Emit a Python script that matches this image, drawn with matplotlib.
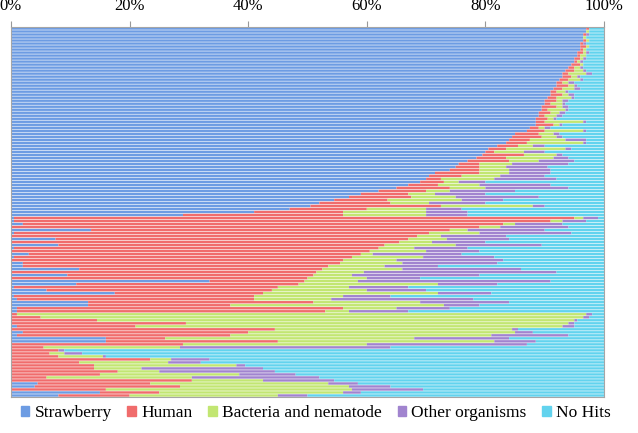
import matplotlib.pyplot as plt
from matplotlib.patches import Patch
import numpy as np

categories = ["Strawberry", "Human", "Bacteria and nematode", "Other organisms", "No Hits"]
colors = ["#6d9ce3", "#f06c6c", "#c2e672", "#a184cf", "#62d3ee"]
xticks = [0, 20, 40, 60, 80, 100]

# percent of each sample, one entry per bar (top to bottom)
strawberry = [97, 97, 96.5, 96.5, 96.5, 96, 96, 96, 95.5, 95.5,
              95, 95, 94.5, 94, 93.5, 93, 93, 92.5, 92, 92,
              91.5, 91, 91, 90.5, 90, 90, 89.5, 89.5, 89, 89,
              88.5, 88.5, 88.5, 87.5, 87, 85, 84.5, 84, 83.5, 82,
              80.5, 80, 79.5, 78.5, 77, 75.5, 75, 74, 71.5, 70.5,
              70, 69, 67, 65, 62, 59, 57, 54.5, 52, 50.5,
              47, 41, 29, 0.5, 0.5, 2, 0, 13.5, 0.5, 0,
              7.5, 0, 8, 0.5, 0, 3, 0.5, 0, 2, 2,
              11.5, 0, 9.5, 0, 33.5, 11, 0.5, 6, 17.5, 0.5,
              1, 13, 13, 1, 1, 0, 0, 0, 0, 1,
              0, 2, 1, 16, 16, 0, 0, 0, 0, 0,
              0, 0, 0, 0, 0, 0, 0, 0, 4.5, 4,
              0, 15, 8]
human = [0.5, 0, 0.5, 0, 0.5, 0.5, 1, 0.5, 1, 0.5,
         1, 0.5, 1.5, 1, 1.5, 1, 1.5, 1.5, 1, 2,
         1.5, 1, 2, 1.5, 2, 1, 2.5, 1, 2, 1,
         2, 1.5, 3, 1.5, 3, 4, 5, 3.5, 3.5, 3.5,
         3, 1.5, 7, 5, 7, 3.5, 4, 5, 7.5, 5.5,
         2.5, 4, 5, 9, 8, 8, 10.5, 9, 12, 22,
         13, 15, 27, 94.5, 90.5, 81, 79, 60.5, 70, 68.5,
         59.5, 65.5, 55, 61.5, 60.5, 56, 57, 56, 53.5, 51.5,
         41, 51.5, 41.5, 50, 16, 37.5, 44.5, 38, 25, 40.5,
         40, 38, 24, 55, 52, 1, 5, 14.5, 29.5, 20,
         44.5, 38, 36, 10, 29, 29, 5.5, 8, 6.5, 8,
         23.5, 11.5, 14, 14, 18, 15, 6, 30.5, 19, 24.5,
         16, 10, 12]
bacteria = [0, 0.5, 0, 0.5, 0.5, 0, 0.5, 0.5, 0.5, 1,
            0.5, 0.5, 0.5, 1, 1.5, 3, 1, 2, 1, 1,
            2, 1.5, 1, 2.5, 1, 2, 1, 3, 1.5, 2,
            1, 6.5, 1, 1, 6.5, 2.5, 2.5, 6, 9.5, 2.5,
            10, 5, 5.5, 8, 5, 5.5, 4.5, 5, 5, 6.5,
            9, 2.5, 7, 6, 4, 4.5, 7.5, 12.5, 6.5, 15.5,
            10, 14, 14, 1.5, 2, 2, 3.5, 3, 8.5, 4,
            6.5, 5.5, 12, 6, 9.5, 2, 12, 9, 10.5, 9.5,
            13.5, 8, 6.5, 10, 9, 23.5, 12, 16, 29.5, 15,
            13, 18, 36, 9, 4, 96, 91.5, 80.5, 64.5, 72,
            40, 45, 44, 42, 36.5, 31, 23, 0, 2.5, 7.5,
            3.5, 15, 24, 8, 7, 23.5, 24.5, 12, 30, 28.5,
            41.5, 31, 25]
other = [0, 0, 0.5, 0, 0, 0.5, 0, 0, 0.5, 0,
         0.5, 0.5, 0, 0.5, 0.5, 1, 0.5, 0.5, 1, 0.5,
         1, 0.5, 1, 0.5, 1, 0.5, 1, 0.5, 1, 1,
         0.5, 0.5, 0.5, 1, 0.5, 1, 1, 3.5, 0.5, 2,
         1, 3.5, 1, 2.5, 6, 9.5, 7, 7, 7, 7.5,
         10.5, 4.5, 12, 14, 11, 8.5, 14, 7, 9.5, 2,
         6, 7, 7, 2.5, 4, 8, 11.5, 13, 15.5, 11,
         10.5, 9, 14.5, 9, 9, 15, 12, 18, 16, 9,
         20, 32.5, 21.5, 9, 32.5, 10, 10, 10, 9, 8,
         24, 15, 6, 9, 10, 1, 1, 0.5, 1, 2,
         1, 3, 13, 16, 7, 27, 35.5, 1, 3, 0.5,
         6.5, 5.5, 1.5, 20.5, 19.5, 9.5, 21.5, 12, 5, 7,
         12, 3, 5]
no_hits = [2.5, 2.5, 2.5, 3, 2.5, 3, 2.5, 3, 2.5, 3,
           3, 3.5, 3.5, 3.5, 3, 2, 4, 3.5, 5, 4.5,
           4, 6, 5, 5, 6, 6.5, 6, 6, 6.5, 7,
           8, 3, 7, 9, 3, 7.5, 7, 3, 3, 10,
           5.5, 10, 7, 6, 5, 6, 9.5, 9, 9, 10,
           8, 20, 9, 6, 15, 20, 11, 17, 20, 10,
           24, 23, 23, 1, 3, 7, 6, 10, 5.5, 16.5,
           16, 20, 10.5, 23, 21, 24, 18.5, 17, 18, 28,
           14, 8, 21, 31, 9, 18, 33, 30, 19, 36,
           22, 16, 21, 26, 33, 2, 2.5, 4.5, 5, 5,
           14.5, 12, 6, 16, 11.5, 13, 36, 91, 88, 84,
           66.5, 68, 60.5, 57.5, 55.5, 52, 48, 45.5, 41.5, 36,
           30.5, 41, 50]

series = [strawberry, human, bacteria, other, no_hits]

plt.rcParams["font.family"] = "Liberation Serif"
fig = plt.figure(figsize=(6.38, 4.33), dpi=100)
ax = fig.add_axes([11 / 638, 1 - 397 / 433, (604 - 11) / 638, (397 - 27) / 433])

y = np.arange(len(strawberry))
left = np.zeros(len(y))
for vals, col in zip(series, colors):
    ax.barh(y, vals, left=left, height=0.8, color=col, linewidth=0, snap=False)
    left += np.array(vals)

ax.set_xlim(0, 100)
ax.set_ylim(len(y) - 0.5, -0.5)
ax.xaxis.tick_top()
ax.set_xticks(xticks)
ax.set_xticklabels([f"{t}%" for t in xticks])
ax.set_yticks([])
ax.tick_params(axis="x", length=4, color="#999999", labelsize=12, pad=5)
for s in ax.spines.values():
    s.set_color("#a6a6a6")
    s.set_linewidth(0.8)

handles = [Patch(color=c, label=l) for c, l in zip(colors, categories)]
fig.legend(handles=handles, loc="center", bbox_to_anchor=(0.495, 0.046), ncol=5,
           frameon=False, handlelength=0.5, handleheight=0.5, handletextpad=0.3,
           columnspacing=0.9, fontsize=12.5)

fig.savefig("out.png", dpi=100)
